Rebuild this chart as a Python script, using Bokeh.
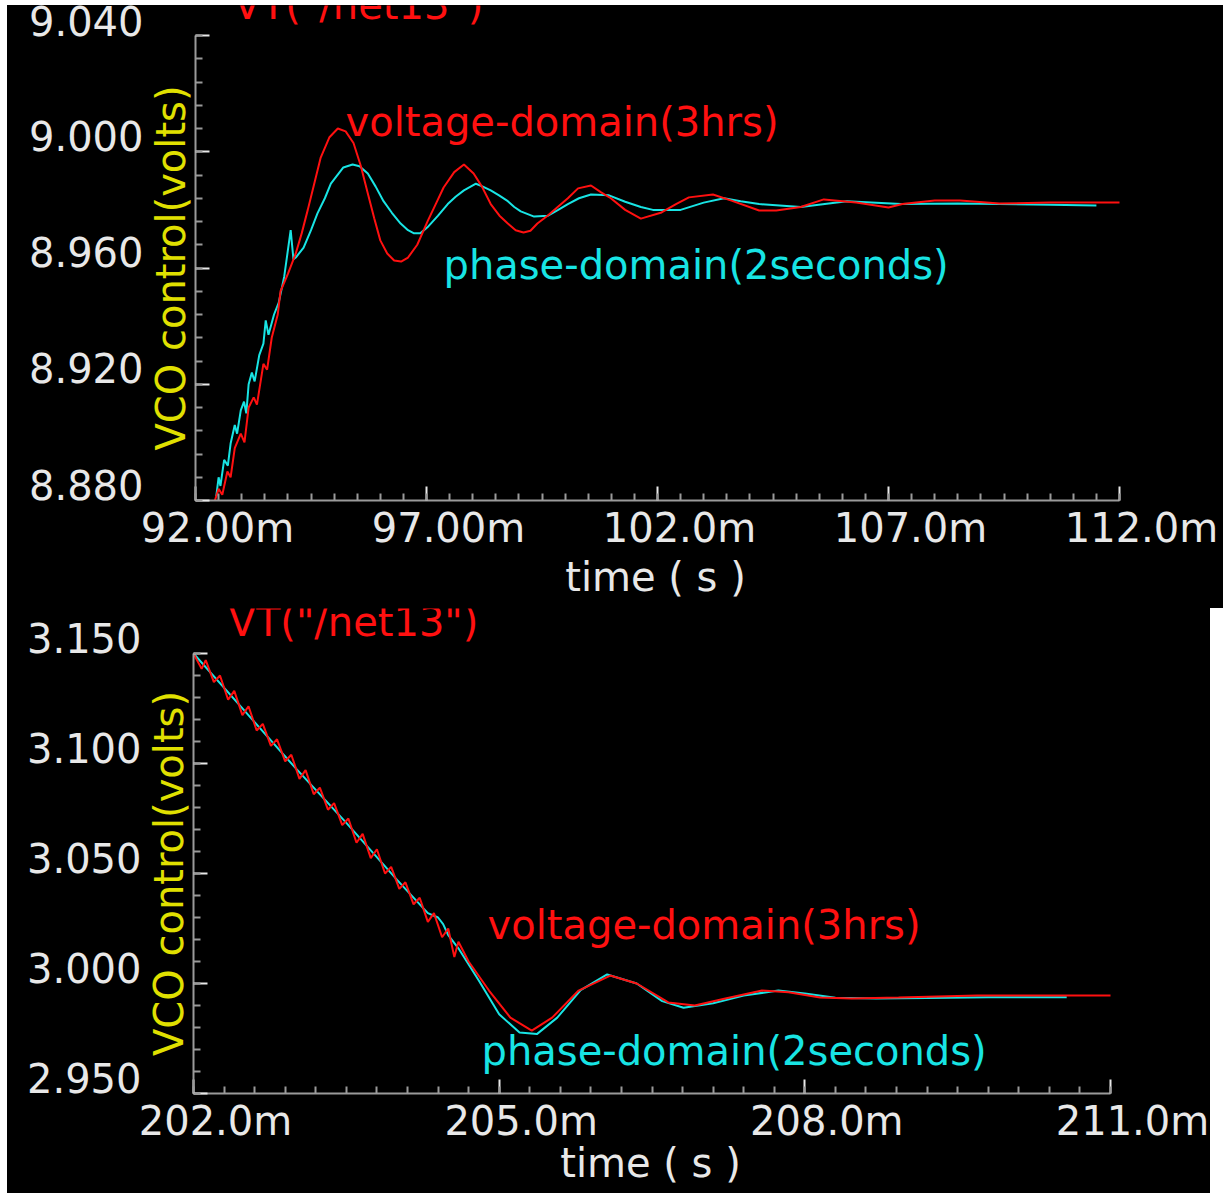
import numpy as np
from bokeh.plotting import figure
from bokeh.models import (Range1d, FixedTicker, Label, LinearAxis, CustomJSTickFormatter, Spacer)
from bokeh.layouts import column, row
from bokeh.embed import file_html
from bokeh.resources import INLINE

# ---------------- data (time in ms, VCO control in volts) ----------------
top_vd_t = [92.42, 92.50, 92.58, 92.69, 92.76, 92.85, 92.98, 93.06, 93.15, 93.26,
            93.33, 93.47, 93.55, 93.65, 93.78, 93.84, 94.00, 94.17, 94.30, 94.43,
            94.57, 94.71, 94.90, 95.08, 95.25, 95.42, 95.58, 95.73, 95.87, 96.00,
            96.15, 96.30, 96.45, 96.60, 96.80, 97.03, 97.20, 97.37, 97.60, 97.81,
            98.02, 98.20, 98.39, 98.58, 98.76, 98.93, 99.10, 99.25, 99.40, 99.62,
            99.84, 100.06, 100.28, 100.56, 100.78, 100.99, 101.30, 101.64, 102.07, 102.40,
            102.68, 103.20, 103.60, 104.20, 104.57, 105.10, 105.60, 106.30, 107.00, 107.30,
            108.00, 108.55, 109.40, 110.50, 112.00]
top_vd_v = [8.880, 8.884, 8.882, 8.890, 8.888, 8.898, 8.903, 8.900, 8.912, 8.9155,
            8.913, 8.927, 8.925, 8.936, 8.944, 8.952, 8.958, 8.965, 8.972, 8.980,
            8.989, 8.998, 9.005, 9.008, 9.007, 9.003, 8.995, 8.9856, 8.977, 8.9695,
            8.965, 8.9626, 8.9622, 8.9636, 8.968, 8.9763, 8.982, 8.9877, 8.993, 8.9956,
            8.9925, 8.988, 8.982, 8.978, 8.9753, 8.973, 8.9722, 8.9728, 8.9753, 8.978,
            8.981, 8.984, 8.9874, 8.9884, 8.986, 8.984, 8.980, 8.977, 8.979, 8.982,
            8.9843, 8.9853, 8.9832, 8.9798, 8.9798, 8.981, 8.9836, 8.9825, 8.9808, 8.982,
            8.9832, 8.9832, 8.9822, 8.9825, 8.9825]

top_pd_t = [92.45, 92.50, 92.54, 92.62, 92.70, 92.76, 92.85, 92.90, 92.98, 93.05,
            93.10, 93.15, 93.22, 93.28, 93.38, 93.47, 93.52, 93.58, 93.70, 93.80,
            93.92, 93.99, 94.06, 94.12, 94.17, 94.34, 94.50, 94.64, 94.80, 94.93,
            95.20, 95.40, 95.55, 95.73, 95.90, 96.07, 96.25, 96.44, 96.60, 96.72,
            96.87, 97.02, 97.25, 97.46, 97.63, 97.81, 98.07, 98.22, 98.39, 98.57,
            98.76, 98.90, 99.04, 99.33, 99.63, 99.85, 100.06, 100.30, 100.56, 100.95,
            101.30, 101.64, 101.90, 102.50, 103.00, 103.44, 103.80, 104.20, 105.10, 106.10,
            107.27, 108.50, 109.40, 110.50, 111.50]
top_pd_v = [8.8815, 8.888, 8.885, 8.894, 8.892, 8.8996, 8.906, 8.903, 8.911, 8.914,
            8.910, 8.920, 8.924, 8.921, 8.930, 8.934, 8.942, 8.937, 8.944, 8.948,
            8.957, 8.965, 8.973, 8.963, 8.9636, 8.967, 8.973, 8.9788, 8.984, 8.989,
            8.9946, 8.9956, 8.995, 8.9925, 8.988, 8.983, 8.979, 8.9753, 8.973, 8.972,
            8.972, 8.974, 8.978, 8.982, 8.9845, 8.9867, 8.989, 8.988, 8.9867, 8.985,
            8.983, 8.981, 8.9795, 8.9777, 8.978, 8.980, 8.982, 8.984, 8.9853, 8.985,
            8.9828, 8.981, 8.980, 8.980, 8.9825, 8.984, 8.983, 8.982, 8.981, 8.983,
            8.982, 8.9822, 8.982, 8.9818, 8.9815]

bot_vd_t = [202.00, 202.08, 202.12, 202.20, 202.26, 202.34, 202.40, 202.48, 202.54, 202.62,
            202.68, 202.76, 202.82, 202.90, 202.96, 203.04, 203.10, 203.18, 203.24, 203.32,
            203.38, 203.46, 203.52, 203.60, 203.66, 203.74, 203.80, 203.88, 203.94, 204.02,
            204.08, 204.16, 204.22, 204.30, 204.36, 204.44, 204.50, 204.56, 204.60, 204.70,
            204.90, 205.11, 205.32, 205.52, 205.78, 206.09, 206.35, 206.66, 206.92, 207.22,
            207.58, 207.84, 208.15, 208.46, 208.92, 209.69, 211.00]
bot_vd_v = [3.150, 3.143, 3.147, 3.137, 3.140, 3.129, 3.133, 3.122, 3.126, 3.115,
            3.118, 3.108, 3.111, 3.101, 3.104, 3.093, 3.097, 3.086, 3.089, 3.079,
            3.082, 3.072, 3.075, 3.064, 3.068, 3.057, 3.061, 3.050, 3.053, 3.043,
            3.046, 3.036, 3.039, 3.028, 3.032, 3.021, 3.025, 3.012, 3.019, 3.010,
            2.9968, 2.9845, 2.9786, 2.9845, 2.9968, 3.0036, 3.0000, 2.9914, 2.9900, 2.9932,
            2.9968, 2.9960, 2.9936, 2.9932, 2.9936, 2.9945, 2.9945]

bot_pd_t = [202.00, 202.50, 203.00, 203.50, 204.00, 204.30, 204.40, 204.45, 204.50, 204.60,
            204.80, 205.00, 205.20, 205.37, 205.57, 205.80, 206.06, 206.35, 206.60, 206.81,
            207.10, 207.40, 207.74, 208.00, 208.30, 208.70, 209.20, 209.80, 210.57]
bot_pd_v = [3.150, 3.124, 3.098, 3.073, 3.047, 3.032, 3.030, 3.027, 3.022, 3.016,
            3.0014, 2.986, 2.9777, 2.9770, 2.9845, 2.9970, 3.0041, 3.0000, 2.9920, 2.9890,
            2.9910, 2.9945, 2.9968, 2.9955, 2.9935, 2.9932, 2.9934, 2.9938, 2.9938]

# ticks and labels
top_xticks = [92, 97, 102, 107, 112]            # ms
top_xlabels = ["92.00m", "97.00m", "102.0m", "107.0m", "112.0m"]
top_yticks = [8.88, 8.92, 8.96, 9.00, 9.04]
top_ylabels = ["8.880", "8.920", "8.960", "9.000", "9.040"]
bot_xticks = [202, 205, 208, 211]
bot_xlabels = ["202.0m", "205.0m", "208.0m", "211.0m"]
bot_yticks = [2.95, 3.00, 3.05, 3.10, 3.15]
bot_ylabels = ["2.950", "3.000", "3.050", "3.100", "3.150"]

TITLE = 'VT("/net13")'
VD_NAME = "voltage-domain(3hrs)"
PD_NAME = "phase-domain(2seconds)"
YLABEL = "VCO control(volts)"
XLABEL = "time ( s )"

RED = "#ff1010"
CYAN = "#18e4e4"
YELLOW = "#e0e000"
WHITE = "#e8e8e8"
AXIS = "#9a9a9a"
FONT = "DejaVu Sans"
FS = "40px"


def ms(a):
    return [x * 1e-3 for x in a]


def label_axis(ticks, labels, standoff, color=WHITE):
    """An axis with no line and no tick marks that only carries texts."""
    return LinearAxis(ticker=FixedTicker(ticks=ticks, minor_ticks=[]),
                      formatter=CustomJSTickFormatter(args=dict(labels=labels),
                                                      code="return labels[index]"),
                      axis_line_color=None, major_tick_line_color=None,
                      minor_tick_line_color=None, major_tick_in=0, major_tick_out=0,
                      minor_tick_in=0, minor_tick_out=0, major_label_standoff=standoff,
                      major_label_text_color=color, major_label_text_font=FONT,
                      major_label_text_font_size=FS)


def panel(width, height, frame, xr, yr, xticks, xminor_step, xlabels,
          yticks, yminor_step, ylabels, vd, pd, title_xy, vd_xy, pd_xy,
          xname_center, xname_standoff):
    # frame = (left, right, top, bottom) of the axes box in figure pixels
    fl, fr, ft, fb = frame
    px_per_s = (fr - fl) / ((xr[1] - xr[0]) * 1e-3)
    px_per_v = (fb - ft) / (yr[1] - yr[0])
    # the plotting area reaches the top and right edges of the panel
    y_end = yr[1] + ft / px_per_v
    x_end = xr[1] * 1e-3 + (width - fr) / px_per_s
    p = figure(width=width, height=height, output_backend="svg", toolbar_location=None,
               x_range=Range1d(xr[0] * 1e-3, x_end), y_range=Range1d(yr[0], y_end),
               min_border_left=fl, min_border_right=0, min_border_top=0,
               min_border_bottom=height - fb)
    p.background_fill_color = None
    p.border_fill_color = None
    p.styles = {"background-color": "black"}
    p.outline_line_color = None
    p.grid.visible = False

    xminor = list(np.arange(xr[0], xr[1] + 1e-9, xminor_step) * 1e-3)
    yminor = list(np.arange(yr[0], yr[1] + 1e-9, yminor_step))

    ax_x = p.xaxis[0]
    ax_y = p.yaxis[0]
    for ax in (ax_x, ax_y):
        ax.axis_line_color = AXIS
        ax.axis_line_width = 2
        ax.major_tick_line_color = WHITE
        ax.major_tick_line_width = 2
        ax.minor_tick_line_color = AXIS
        ax.minor_tick_line_width = 2
        ax.major_tick_in = 14
        ax.major_tick_out = 0
        ax.minor_tick_in = 7
        ax.minor_tick_out = 0
    # inner x axis: line + ticks only
    ax_x.ticker = FixedTicker(ticks=ms(xticks), minor_ticks=xminor)
    ax_x.bounds = (xr[0] * 1e-3, xr[1] * 1e-3)
    ax_x.formatter = CustomJSTickFormatter(code="return ''")
    ax_x.major_label_text_font_size = "0px"
    ax_x.major_label_standoff = 0
    # inner y axis: line + ticks, and the yellow quantity name beside the middle tick
    ax_y.ticker = FixedTicker(ticks=yticks, minor_ticks=yminor)
    ax_y.bounds = (yr[0], yr[1])
    mid = len(yticks) // 2
    ax_y.formatter = CustomJSTickFormatter(
        args=dict(labels=[YLABEL if i == mid else "" for i in range(len(yticks))]),
        code="return labels[index]")
    ax_y.major_label_orientation = "vertical"
    ax_y.major_label_text_color = YELLOW
    ax_y.major_label_text_font = FONT
    ax_y.major_label_text_font_size = FS
    ax_y.major_label_standoff = 2

    # outer y axis: tick values, baseline sitting on each tick
    dy = 16 / px_per_v
    p.add_layout(label_axis([v + dy for v in yticks], ylabels, 1), "left")

    # x tick values (drawn a little right of each tick), then the quantity name
    dx = 22 / px_per_s
    p.add_layout(label_axis([t * 1e-3 + dx for t in xticks], xlabels, 4), "below")
    xc = xr[0] * 1e-3 + (xname_center - fl) / px_per_s
    p.add_layout(label_axis([xc], [XLABEL], xname_standoff), "below")

    # curves
    p.line(ms(pd[0]), pd[1], line_color=CYAN, line_width=2)
    p.line(ms(vd[0]), vd[1], line_color=RED, line_width=2)

    # title and curve names
    lift = 13 / px_per_v
    for (xy, txt, col) in ((title_xy, TITLE, RED), (vd_xy, VD_NAME, RED), (pd_xy, PD_NAME, CYAN)):
        p.add_layout(Label(x=xy[0] * 1e-3, y=xy[1] + lift, text=txt, text_color=col,
                           text_font=FONT, text_font_size=FS, text_baseline="alphabetic"))
    return p


# top panel: placed at page (7, 5), 1216 x 603
top = panel(1216, 603, (188, 1112, 30, 495), (92, 112), (8.88, 9.04),
            top_xticks, 0.5, top_xlabels, top_yticks, 0.008, top_ylabels,
            (top_vd_t, top_vd_v), (top_pd_t, top_pd_v),
            (92.823, 9.0459), (95.247, 9.0056), (97.368, 8.9564), 648, 0)

# bottom panel: placed at page (7, 608), 1203 x 585
bot = panel(1203, 585, (186, 1103, 45, 485), (202, 211), (2.95, 3.15),
            bot_xticks, 0.3, bot_xlabels, bot_yticks, 0.01, bot_ylabels,
            (bot_vd_t, bot_vd_v), (bot_pd_t, bot_pd_v),
            (202.344, 3.1582), (204.886, 3.0205), (204.827, 2.9636), 643, -7)

layout = column(Spacer(width=1223, height=5),
                row(Spacer(width=7, height=603), top),
                row(Spacer(width=7, height=585), bot))
open("out.html", "w").write(file_html(layout, INLINE))
